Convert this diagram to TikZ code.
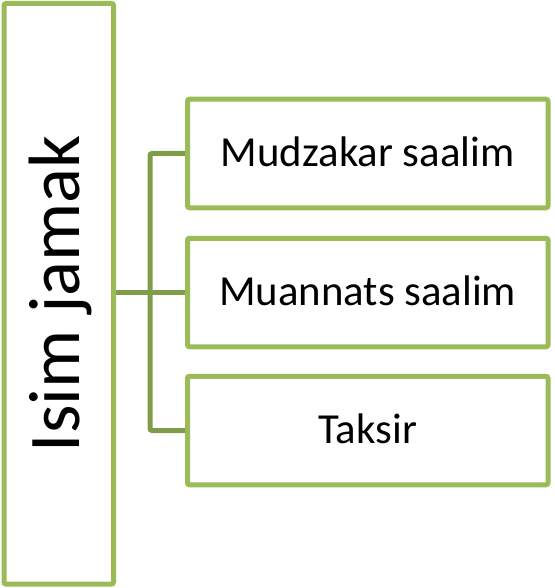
\documentclass[tikz,border=0pt]{standalone}
\usepackage{fontspec}
\setmainfont{Carlito}
\usetikzlibrary{backgrounds}
\definecolor{boxgreen}{HTML}{9BBB59}
\definecolor{conngreen}{HTML}{7F9D48}
\tikzset{
  greenbox/.style={draw=boxgreen, line width=5pt, fill=white, rounded corners=2pt, inner sep=0pt},
  rightbox/.style={greenbox, minimum width=360.5pt, minimum height=108.5pt, font=\fontsize{42.8}{50}\selectfont, text height=30pt, text depth=5pt},
  leftbox/.style={greenbox, rotate=90, minimum width=580.5pt, minimum height=109.5pt, font=\fontsize{72.8}{84}\selectfont, text height=50pt, text depth=9.5pt},
  conn/.style={draw=conngreen, line width=5pt, rounded corners=2pt}
}
\begin{document}
\begin{tikzpicture}[x=1pt, y=-1pt]
\useasboundingbox (0,0) rectangle (554,588);
\node[leftbox] (L) at (58.75,293.75) {Isim jamak};
\node[rightbox] (B1) at (367.75,153.5) {Mudzakar saalim};
\node[rightbox] (B2) at (367.75,292.5) {Muannats saalim};
\node[rightbox] (B3) at (367.75,430.5) {Taksir};
\coordinate (J) at (150,292.5);
\begin{scope}[on background layer]
\draw[conn] (B2.west) -- (B2.west -| L.south);
\draw[conn] (B1.west) -| (J) |- (B3.west);
\end{scope}
\end{tikzpicture}
\end{document}
